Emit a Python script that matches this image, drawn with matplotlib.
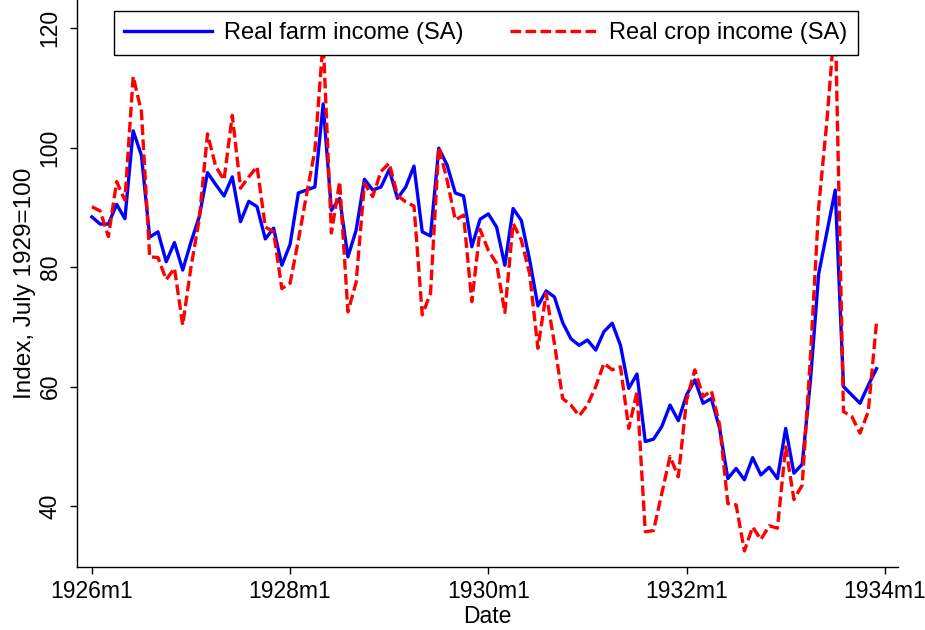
import numpy as np
import matplotlib
matplotlib.use('Agg')
import matplotlib.pyplot as plt

# Monthly index values, 1926m1 .. 1933m12 (July 1929 = 100)
months = np.arange(96)

farm_income = [
    88.4, 87.2, 87.2, 90.5, 88.1, 102.8, 98.7, 85.0, 85.9, 80.9, 84.1, 79.5,
    84.2, 88.4, 95.8, 93.8, 91.9, 95.1, 87.6, 91.0, 90.1, 84.7, 86.5, 80.3,
    83.8, 92.4, 92.9, 93.4, 107.3, 89.5, 91.5, 81.7, 86.2, 94.7, 92.9, 93.4,
    96.3, 91.5, 93.4, 96.9, 85.9, 85.2, 99.9, 97.1, 92.4, 91.9, 83.4, 88.0,
    88.9, 86.7, 80.3, 89.8, 87.8, 81.2, 73.5, 76.0, 75.0, 70.7, 68.0, 66.9,
    67.8, 66.1, 69.2, 70.6, 66.9, 59.7, 62.1, 50.8, 51.2, 53.3, 56.9, 54.3,
    58.6, 61.1, 57.2, 58.0, 53.0, 44.6, 46.3, 44.4, 48.1, 45.2, 46.5, 44.6,
    53.0, 45.5, 47.0, 61.0, 78.9, 85.9, 92.9, 60.0, 58.6, 57.2, 60.2, 63.0,
]

crop_income = [
    90.1, 89.4, 85.1, 94.3, 91.2, 111.9, 106.0, 81.7, 81.6, 77.9, 79.8, 70.3,
    80.0, 88.0, 102.3, 96.8, 94.6, 105.4, 93.2, 95.1, 96.8, 86.7, 85.9, 76.4,
    77.3, 84.5, 92.2, 99.5, 118.0, 85.7, 94.3, 72.5, 77.5, 94.0, 91.8, 96.0,
    97.4, 92.0, 90.9, 90.2, 72.0, 75.6, 100.1, 94.6, 87.9, 88.7, 74.2, 86.3,
    82.8, 80.6, 72.4, 87.3, 84.5, 78.9, 66.4, 75.6, 67.2, 58.0, 56.9, 55.1,
    56.9, 60.0, 63.9, 62.8, 63.3, 53.0, 59.1, 35.7, 35.9, 42.1, 48.3, 44.9,
    57.7, 62.8, 58.3, 59.3, 53.6, 40.4, 40.2, 32.5, 36.5, 34.4, 36.7, 36.3,
    49.9, 41.1, 43.5, 65.0, 90.1, 104.6, 122.0, 55.8, 55.0, 52.2, 55.8, 70.8,
]

x_ticks = [0, 24, 48, 72, 96]
x_tick_labels = ['1926m1', '1928m1', '1930m1', '1932m1', '1934m1']
y_ticks = [40, 60, 80, 100, 120]

plt.rcParams['font.family'] = ['Liberation Sans', 'DejaVu Sans']

fig = plt.figure(figsize=(9.25, 6.3), dpi=100)
ax = fig.add_axes([77 / 925, 63 / 630, 821 / 925, 567 / 630])

# Plot both series
ax.plot(months, farm_income, color='#0000ff', lw=2.4, label='Real farm income (SA)')
ax.plot(months, crop_income, color='#ff0000', lw=2.4, dashes=(3.2, 1.3),
        label='Real crop income (SA)')

ax.set_xlim(-1.8, 97.6)
ax.set_ylim(29.8, 124.7)

# Stata-like axes: only left and bottom
ax.spines['top'].set_visible(False)
ax.spines['right'].set_visible(False)
ax.spines['left'].set_linewidth(1.0)
ax.spines['bottom'].set_linewidth(1.0)

ax.set_xticks(x_ticks)
ax.set_xticklabels(x_tick_labels)
ax.set_yticks(y_ticks)
ax.tick_params(axis='both', length=5, width=1.0, labelsize=16.5, direction='out')
ax.tick_params(axis='x', pad=4)
ax.tick_params(axis='y', pad=6)
for lab in ax.get_yticklabels():
    lab.set_rotation(90)
    lab.set_va('center')

ax.set_xlabel('Date', fontsize=16.5, labelpad=2)
ax.set_ylabel('Index, July 1929=100', fontsize=17.5, labelpad=2)

# Legend across the top of the plot
leg = ax.legend(loc='center', bbox_to_anchor=(486 / 925, 1 - 33 / 630),
                bbox_transform=fig.transFigure, ncol=2, frameon=True,
                fancybox=False, edgecolor='black', framealpha=1,
                fontsize=17, handlelength=3.7, handletextpad=0.5,
                columnspacing=2.0, borderpad=0.45)
leg.get_frame().set_linewidth(1.0)

fig.savefig('out.png', dpi=100)
